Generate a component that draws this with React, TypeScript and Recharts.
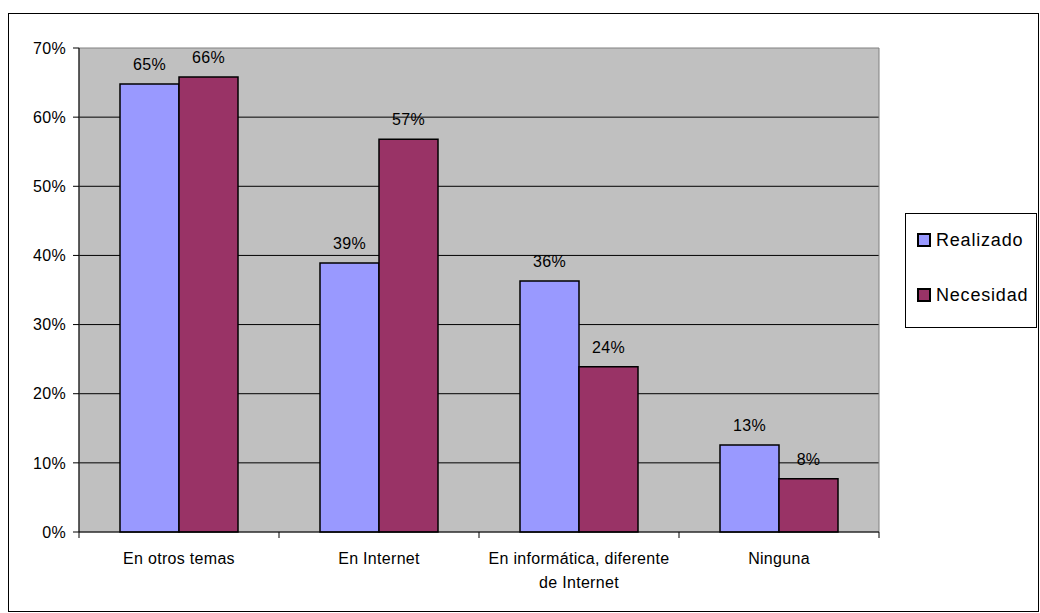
import React from "react";
import {
  BarChart, Bar, XAxis, YAxis, CartesianGrid, LabelList, Legend, ReferenceArea, Text,
} from "recharts";

// values (percent)
const CATEGORIES = ["En otros temas", "En Internet", "En informática, diferente de Internet", "Ninguna"];
const REALIZADO = [64.8, 38.9, 36.3, 12.6];
const NECESIDAD = [65.8, 56.8, 23.9, 7.7];
const Y_TICKS = [0, 10, 20, 30, 40, 50, 60, 70];
const SERIES = ["Realizado", "Necesidad"];

const COLORS = { realizado: "#9999FF", necesidad: "#993366" };
const FONT = "'Liberation Sans', Arial, sans-serif";

const data = CATEGORIES.map((name, i) => ({
  name,
  Realizado: REALIZADO[i],
  Necesidad: NECESIDAD[i],
}));

const pct = (v: any) => `${Math.round(Number(v))}%`;

// category label plus tick marks on the category boundaries (Excel style)
const CategoryTick = ({ x, y, payload, index, width, visibleTicksCount }: any) => {
  const half = width / visibleTicksCount / 2;
  return (
    <g>
      {index === 0 && <line x1={x - half} x2={x - half} y1={y} y2={y + 6} stroke="#000" />}
      <line x1={x + half} x2={x + half} y1={y} y2={y + 6} stroke="#000" />
      <Text
        x={x}
        y={y + 21}
        width={195}
        textAnchor="middle"
        verticalAnchor="start"
        lineHeight={24}
        style={{ fontFamily: FONT, fontSize: 16, fill: "#000", letterSpacing: 0.3 }}
      >
        {payload.value}
      </Text>
    </g>
  );
};

const LegendBox = ({ payload }: any) => {
  const items = [...(payload || [])].sort(
    (a: any, b: any) => SERIES.indexOf(a.value) - SERIES.indexOf(b.value)
  );
  return (
    <div style={{ fontFamily: FONT, fontSize: 18, letterSpacing: 0.8, color: "#000", paddingLeft: 11, paddingTop: 13 }}>
      {items.map((p: any) => (
        <div key={p.value} style={{ display: "flex", alignItems: "center", height: 26, marginBottom: 29 }}>
          <div style={{ width: 10, height: 10, background: p.color, border: "2px solid #000", marginRight: 5 }} />
          {p.value}
        </div>
      ))}
    </div>
  );
};

export default function App() {
  return (
    <div style={{ position: "absolute", left: 0, top: 0, width: 1040, height: 613, background: "#fff" }}>
      {/* outer chart frame */}
      <div style={{ position: "absolute", left: 8, top: 13, width: 1029, height: 597, border: "1px solid #000" }} />
      <BarChart
        width={1040}
        height={613}
        data={data}
        margin={{ top: 48, right: 29, bottom: 31, left: 19 }}
        barCategoryGap="20.5%"
        barGap={0}
      >
        <CartesianGrid
          vertical={false}
          stroke="#000"
          strokeWidth={1}
          fill="#C0C0C0"
          fillOpacity={1}
          horizontalValues={[10, 20, 30, 40, 50, 60]}
        />
        <ReferenceArea y1={0} y2={70} fill="none" stroke="#808080" strokeWidth={1} />
        <XAxis
          dataKey="name"
          height={50}
          interval={0}
          tickLine={false}
          tickSize={0}
          tickMargin={0}
          axisLine={{ stroke: "#000" }}
          tick={<CategoryTick />}
        />
        <YAxis
          width={60}
          domain={[0, 70]}
          ticks={Y_TICKS}
          tickFormatter={(v) => `${v}%`}
          tickSize={6}
          tickMargin={7}
          axisLine={{ stroke: "#000" }}
          tickLine={{ stroke: "#000" }}
          tick={{ fill: "#000", fontSize: 16, fontFamily: FONT, letterSpacing: 0.3 }}
        />
        <Legend
          layout="vertical"
          align="right"
          verticalAlign="top"
          content={<LegendBox />}
          wrapperStyle={{
            left: 905, top: 213, width: 132, height: 115,
            border: "1px solid #000", boxSizing: "border-box", background: "#fff",
          }}
        />
        <Bar dataKey="Realizado" fill={COLORS.realizado} stroke="#000" strokeWidth={1.5} isAnimationActive={false}>
          <LabelList dataKey="Realizado" position="top" offset={14} formatter={pct}
            style={{ fill: "#000", fontSize: 16, fontFamily: FONT, letterSpacing: 0.3 }} />
        </Bar>
        <Bar dataKey="Necesidad" fill={COLORS.necesidad} stroke="#000" strokeWidth={1.5} isAnimationActive={false}>
          <LabelList dataKey="Necesidad" position="top" offset={14} formatter={pct}
            style={{ fill: "#000", fontSize: 16, fontFamily: FONT, letterSpacing: 0.3 }} />
        </Bar>
      </BarChart>
    </div>
  );
}
